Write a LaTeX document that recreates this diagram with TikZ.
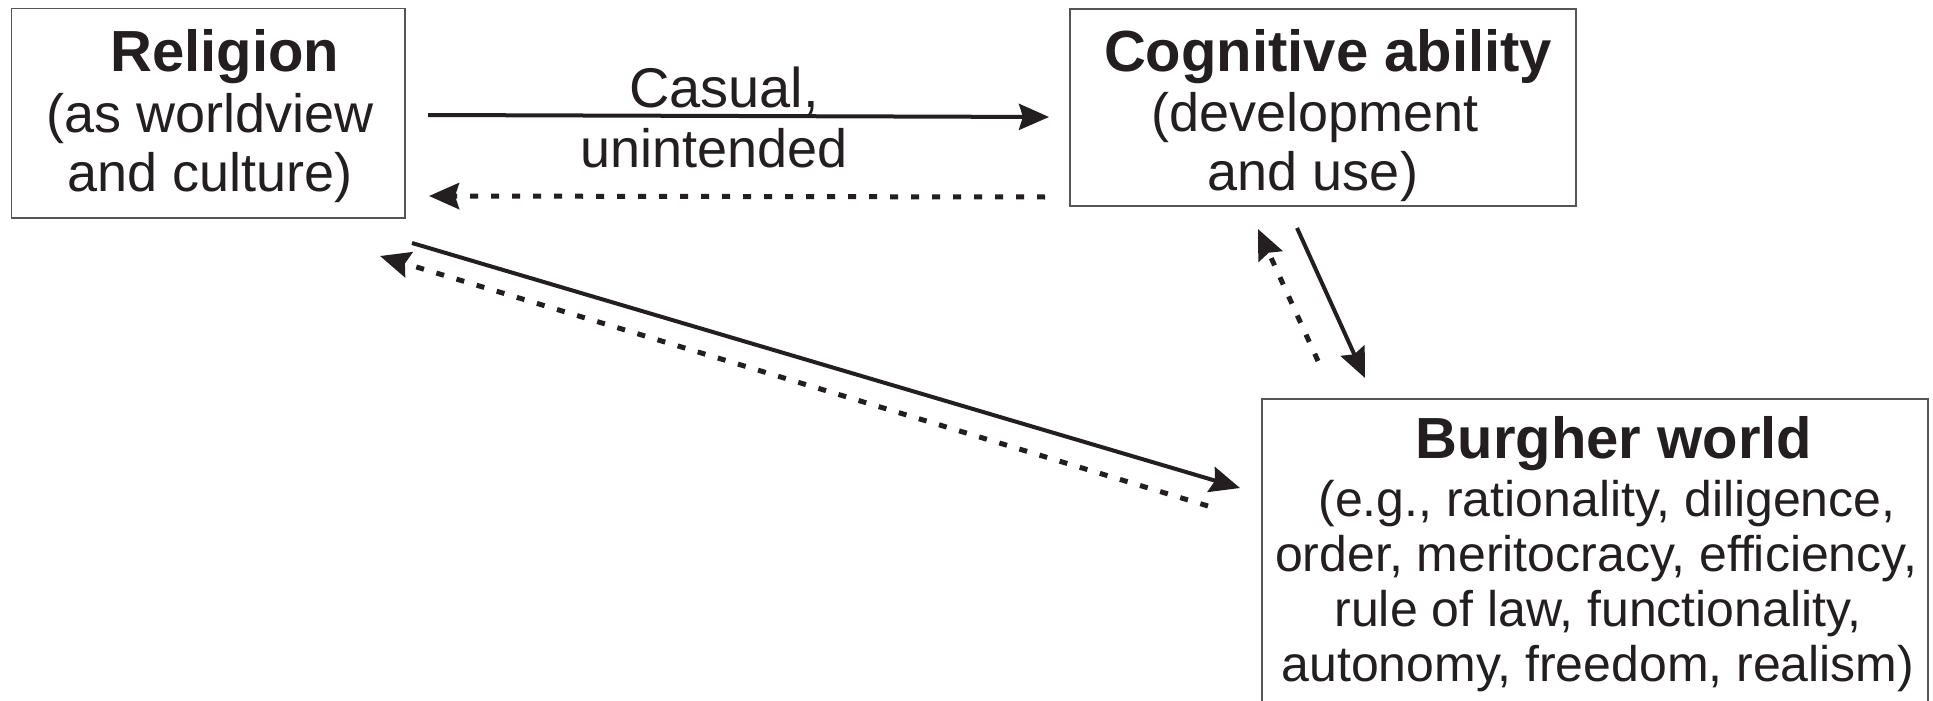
\documentclass[tikz,border=0pt]{standalone}
\usepackage{fontspec}
\setmainfont{Liberation Sans}
\usetikzlibrary{arrows.meta}
\definecolor{ink}{HTML}{231F20}
\definecolor{frame}{HTML}{555555}
\tikzset{
  box/.style={draw=frame, line width=1.5pt, inner sep=0pt, fill=none},
  head/.style={text=ink, anchor=base, inner sep=0pt, font=\bfseries\fontsize{58}{64}\selectfont},
  body/.style={text=ink, anchor=base, inner sep=0pt, font=\fontsize{54}{61}\selectfont},
  bodysm/.style={text=ink, anchor=base, inner sep=0pt, font=\fontsize{50}{55}\selectfont},
  solidarrow/.style={draw=ink, line width=4pt, -{Stealth[length=30pt,width=26pt,inset=4pt]}},
  dasharrow/.style={draw=ink, line width=5pt, dash pattern=on 8pt off 13pt, -{Stealth[length=30pt,width=26pt,inset=4pt]}}
}
\begin{document}
\begin{tikzpicture}[x=1pt,y=-1pt]
\clip (0,0) rectangle (1933,701);
\fill[white] (0,0) rectangle (1933,701);
% boxes
\node[box, minimum width=393.5pt, minimum height=209.5pt] (rel) at (208.25,113.25) {};
\node[box, minimum width=506pt, minimum height=197pt] (cog) at (1323,107.5) {};
\node[box, minimum width=666pt, minimum height=310pt] (bur) at (1595,554) {};
% texts
\node[head] (relT) at (225,71) {Religion};
\node[body] (relA) at (210,132) {(as worldview};
\node[body] (relB) at (210,191) {and culture)};
\node[head] (cogT) at (1328,71) {Cognitive ability};
\node[body] (cogA) at (1315,131) {(development};
\node[body] (cogB) at (1313,190) {and use)};
\node[head] (burT) at (1614,458) {Burgher world};
\node[bodysm] (burA) at (1607,516) {(e.g., rationality, diligence,};
\node[bodysm] (burB) at (1596,571) {order, meritocracy, efficiency,};
\node[bodysm] (burC) at (1598,626) {rule of law, functionality,};
\node[bodysm] (burD) at (1598,681) {autonomy, freedom, realism)};
\node[body, font=\fontsize{56}{61}\selectfont] (labA) at (724,107) {Casual,};
\node[body] (labB) at (714,167) {unintended};
% arrow end points
\coordinate (p1s) at (428,115);  \coordinate (p1e) at (1049,117);
\coordinate (p2s) at (1045,197); \coordinate (p2e) at (429,196);
\coordinate (p3s) at (412,243);  \coordinate (p3e) at (1240,488);
\coordinate (p4s) at (1208,506); \coordinate (p4e) at (380,256);
\coordinate (p5s) at (1297,228); \coordinate (p5e) at (1365,378);
\coordinate (p6s) at (1318,361); \coordinate (p6e) at (1258,229);
% connectors
\draw[solidarrow] (p1s) -- (p1e);
\draw[dasharrow] (p2s) -- (p2e);
\draw[solidarrow] (p3s) -- (p3e);
\draw[dasharrow] (p4s) -- (p4e);
\draw[solidarrow] (p5s) -- (p5e);
\draw[dasharrow] (p6s) -- (p6e);
\end{tikzpicture}
\end{document}
